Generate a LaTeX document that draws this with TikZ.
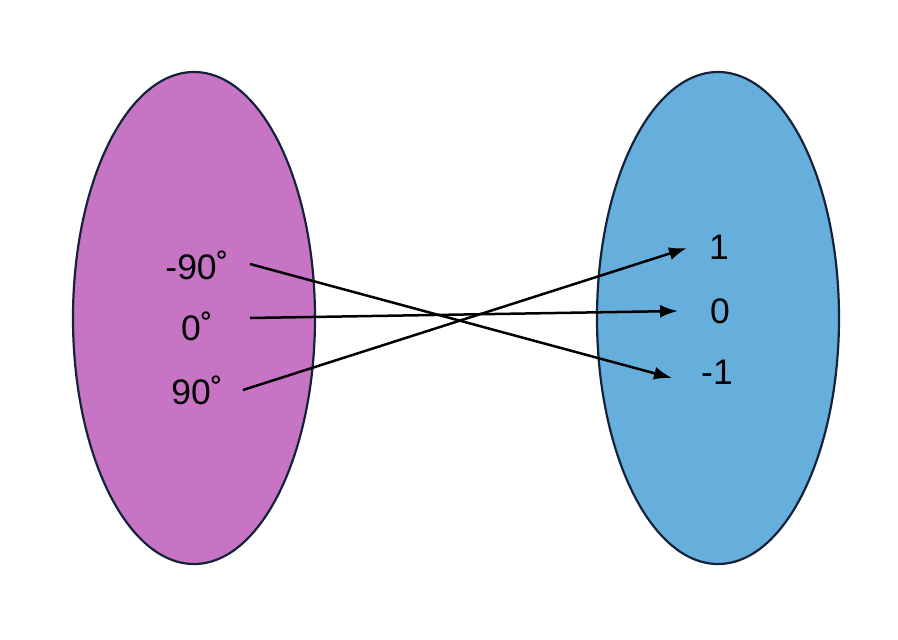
\documentclass[tikz,border=0pt]{standalone}
\usepackage{fontspec}
\setmainfont{Liberation Sans}
\usetikzlibrary{arrows.meta}
\definecolor{setA}{HTML}{C874C4}
\definecolor{setB}{HTML}{66AEDB}
\definecolor{edgec}{HTML}{14223A}
\begin{document}
\begin{tikzpicture}[x=1pt,y=-1pt,
  setshape/.style={draw=edgec,line width=2.2pt},
  lbl/.style={font=\fontsize{35.5}{38}\selectfont,inner sep=0pt,anchor=center},
  maparrow/.style={line width=2.5pt,-{Latex[length=18pt,width=13pt]}}]
\useasboundingbox (0,0) rectangle (898,640);
\draw[setshape,fill=setA] (194,318) ellipse [x radius=121, y radius=246];
\draw[setshape,fill=setB] (718,318) ellipse [x radius=121, y radius=246];
\node[lbl] (lm90) at (197,265) {-90˚};
\node[lbl] (l0) at (197,326) {0˚};
\node[lbl] (l90) at (197,390) {90˚};
\node[lbl] (r1) at (719,247.5) {1};
\node[lbl] (r0) at (720,311) {0};
\node[lbl] (rm1) at (717,372) {-1};
\coordinate (sA) at (250,264);
\coordinate (sB) at (250,318);
\coordinate (sC) at (243,390);
\coordinate (eA) at (672,378);
\coordinate (eB) at (678,311);
\coordinate (eC) at (687,248);
\draw[maparrow] (sA) -- (eA);
\draw[maparrow] (sB) -- (eB);
\draw[maparrow] (sC) -- (eC);
\end{tikzpicture}
\end{document}
